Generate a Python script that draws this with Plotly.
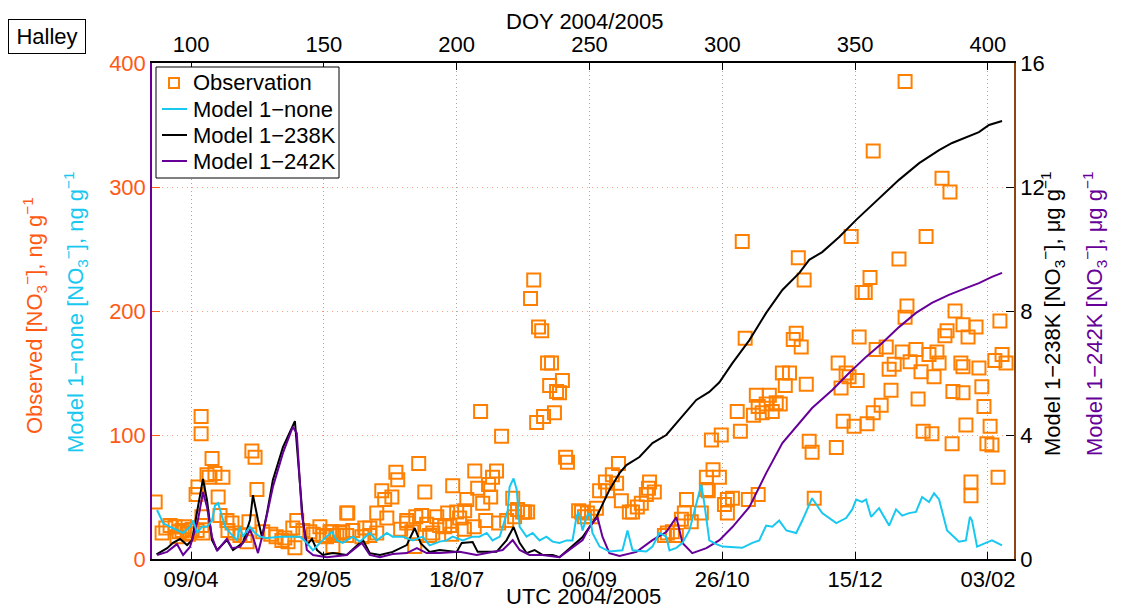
import plotly.graph_objects as go

# ---------------- data ----------------
obs_doy = [86.5, 103.8, 103.8, 107.9, 122.9, 124.1, 106.0, 106.8, 109.0, 112.0, 102.6, 101.9, 110.2, 124.8,
           110.9, 104.1, 104.1, 113.5, 115.4, 121.8, 89.1, 92.1, 94.0, 96.6, 98.5, 100.4, 102.3, 104.5, 113.9,
           116.5, 118.4, 120.3, 121.1, 139.8, 138.3, 142.1, 144.7, 148.5, 149.6, 153.0, 154.9, 158.6, 134.2,
           136.5, 139.1, 153.4, 158.6, 94.7, 135.3, 90.5, 95.5, 97.5, 99.0, 127.0, 130.0, 132.0, 146.0, 151.0,
           156.0,
           209.0, 216.9, 185.7, 177.1, 177.8, 206.8, 215.0, 213.5, 212.0, 198.5, 207.9, 212.8, 209.8, 203.8,
           188.0, 171.8, 172.9, 175.6, 159.0, 169.9, 173.7, 181.2, 186.8, 184.6, 192.5, 196.6, 200.0, 203.0,
           201.1, 210.9, 215.8, 218.8, 222.9, 221.1, 225.6, 221.8, 181.2, 188.7, 193.6, 195.5, 197.4, 206.6,
           202.9, 178.9, 183.1, 189.8, 191.0, 198.1, 165.4, 167.3, 169.9, 160.9, 157.1, 152.3, 164.3, 167.3,
           184.2,
           229.0, 227.8, 230.8, 232.0, 234.2, 235.7, 239.8, 235.0, 237.6, 238.7, 236.8, 232.7, 230.1, 241.0,
           241.7, 260.9, 258.6, 256.0, 253.8, 256.8, 260.2, 262.0, 272.6, 272.2, 274.4, 271.4, 269.5, 268.0,
           266.2, 265.0, 245.9, 249.2, 252.6, 248.1, 250.8, 279.3, 282.7, 278.2, 281.2, 285.7, 286.5, 284.6,
           288.3, 292.1, 294.0, 295.9, 299.6, 294.0, 296.5, 294.7, 224.8, 226.7, 247.0,
           307.5, 328.6, 330.8, 348.5, 355.6, 352.6, 353.8, 366.5, 376.7, 369.5, 368.8, 308.6, 327.8, 326.7,
           329.7, 351.5, 357.9, 361.7, 387.6, 390.6, 395.5, 384.6, 383.8, 392.5, 404.5, 343.6, 346.6, 347.7,
           350.8, 344.7, 362.8, 364.7, 367.7, 370.7, 372.9, 374.8, 377.8, 380.8, 381.6, 379.7, 389.8, 390.6,
           396.6, 402.6, 405.3, 406.8, 363.5, 373.7, 386.8, 390.6, 397.7, 398.5, 359.8, 356.8, 354.5, 349.6,
           345.5, 391.7, 400.8, 375.6, 378.9, 386.5, 399.6, 401.5, 342.9, 332.7, 333.8, 403.8, 393.6, 393.6,
           334.6, 322.6, 325.3, 323.7, 331.6, 312.8, 317.7, 313.5, 316.5, 320.3, 321.8, 311.7, 315.0, 318.8,
           305.6, 306.8, 298.9, 303.8, 301.9, 300.8, 301.9, 309.8, 313.5, 368.8, 356.8, 382.7, 385.7]
obs_val = [46, 115, 101, 81, 87, 82, 68, 66, 69, 66, 58, 52, 50, 56,
           35, 34, 27, 31, 29, 30, 21, 27, 26, 23, 21, 24, 23, 21, 23,
           21, 19, 19, 14, 31, 25, 23, 22, 26, 19, 22, 19, 37, 15,
           14, 9, 10, 19, 18, 17, 25, 22, 26, 20, 22, 20, 18, 20, 18,
           21,
           119, 99, 77, 70, 64, 71, 71, 66, 60, 59, 57, 50, 45, 48,
           54, 55, 48, 50, 37, 37, 33, 31, 35, 34, 34, 37, 38, 39,
           33, 31, 29, 31, 40, 49, 38, 34, 29, 28, 27, 26, 27, 26,
           24, 24, 22, 19, 21, 20, 25, 25, 21, 23, 22, 22, 18, 19,
           10,
           225, 210, 187, 184, 158, 158, 144, 140, 135, 134, 118, 115, 110, 82,
           78, 77, 68, 62, 55, 55, 61, 47, 62, 57, 54, 52, 45, 42,
           38, 38, 39, 37, 41, 34, 34, 21, 19, 19, 22, 37, 48, 32,
           30, 37, 56, 96, 100, 66, 72, 55, 38, 38, 38,
           256, 243, 225, 260, 227, 215, 215, 242, 260, 204, 195, 178, 182, 177,
           171, 179, 169, 171, 200, 189, 187, 184, 180, 179, 192, 158, 150, 147,
           144, 138, 153, 157, 167, 159, 169, 151, 165, 167, 158, 147, 158, 155,
           154, 160, 165, 158, 136, 129, 135, 134, 139, 123, 124, 118, 109, 107,
           111, 108, 107, 103, 101, 93, 93, 92, 90, 95, 86, 66, 62, 51,
           49, 150, 150, 140, 141, 132, 132, 123, 125, 126, 125, 116, 118, 119,
           119, 103, 66, 49, 48, 44, 37, 48, 52, 385, 329, 307, 296]

none_doy = [87.2, 88.3, 89.5, 92.1, 94.7, 97.0, 99.6, 100.8, 102.3, 104.1, 106.0, 107.9, 109.0, 110.2, 111.7,
            112.8, 114.7, 117.3, 118.4, 119.5, 121.1, 122.2, 124.1, 125.9, 128.6, 133.5, 138.3, 141.0, 143.6,
            145.9, 148.5, 151.1, 153.0, 154.9, 157.1, 160.9, 163.5, 167.3, 169.9, 173.7, 175.9, 179.7, 183.5,
            187.2, 189.8, 193.6, 196.2, 198.5, 202.3, 206.0, 208.6, 211.3, 213.5, 216.2, 219.2, 219.9, 221.4,
            222.6, 223.7, 226.3, 228.6, 231.2, 233.8, 236.1, 238.7, 241.4, 243.6, 245.1, 245.9, 247.4, 248.9,
            250.0, 251.1, 253.8, 257.5, 262.4, 264.3, 266.2, 271.4, 273.7, 276.3, 278.9, 280.1, 282.7, 285.0,
            287.6, 290.2, 292.1, 293.2, 295.1, 297.7, 300.2, 307.5, 311.3, 313.9, 316.5, 318.8, 321.4, 324.1,
            327.8, 330.1, 333.8, 337.6, 341.4, 342.9, 346.6, 348.9, 350.4, 352.6, 354.1, 356.0, 359.0, 362.8,
            365.4, 367.7, 370.3, 372.9, 375.2, 377.8, 379.7, 381.6, 384.6, 389.1, 391.7, 393.2, 394.0, 395.9,
            399.2, 401.5, 405.3]
none_val = [39.5, 34, 29, 26, 23, 21, 26, 31, 21, 26, 26, 31, 43, 45, 34,
            26, 21, 15, 26, 18, 23, 26, 21, 18, 17, 18, 18, 18, 13,
            7, 13, 18, 22, 15, 13, 18, 14, 21, 15, 21, 18, 18, 15,
            18, 11, 14, 15, 18, 15, 18, 18, 21, 15, 18, 39, 58, 65,
            56, 26, 18, 21, 15, 18, 14, 13, 15, 15, 34, 38, 23, 34,
            37, 21, 10, 6, 7, 23, 7, 6, 10, 21, 18, 7, 9, 13,
            23, 45, 60, 45, 15, 12, 10, 9, 13, 15, 27, 26, 31, 23,
            21, 31, 49, 37, 31, 29, 33, 40, 48, 46, 48, 34, 41, 27,
            40, 35, 37, 38, 50, 46, 53, 48, 23, 14, 15, 34, 31, 10,
            13, 15, 11]

k238_doy = [87.0, 91.0, 93.2, 95.9, 98.5, 100.4, 102.6, 104.5, 106.0, 107.9, 109.8, 113.5, 115.8, 119.5,
            122.2, 123.3, 125.2, 126.7, 128.6, 130.8, 134.6, 139.1, 142.1, 143.6, 145.5, 147.4, 149.6, 153.4,
            158.6, 164.7, 167.3, 171.1, 175.9, 181.2, 184.2, 186.5, 189.8, 193.6, 200.0, 201.9, 206.0, 207.9,
            215.0, 218.8, 221.4, 223.7, 226.3, 229.3, 232.3, 236.1, 238.7, 242.5, 247.4, 252.6, 257.5, 261.3,
            263.9, 268.8, 273.7, 278.9, 282.7, 290.2, 295.1, 298.9, 303.8, 310.2, 316.5, 322.6, 329.0, 332.7,
            337.6, 344.0, 350.4, 357.9, 366.5, 374.1, 381.6, 386.5, 391.7, 396.6, 400.4, 405.3]
k238_val = [0.15, 0.35, 0.52, 0.65, 0.45, 0.61, 1.68, 2.58, 1.90, 0.61, 0.29, 0.61, 0.29, 0.52,
            1.26, 2.06, 1.26, 0.71, 1.48, 2.55, 3.61, 4.45, 1.26, 0.45, 0.65, 0.29, 0.13, 0.19,
            0.13, 0.61, 0.19, 0.13, 0.23, 0.45, 1.0, 0.5, 0.23, 0.29, 0.23, 0.52, 0.55, 0.23,
            0.23, 0.61, 1.03, 0.52, 0.19, 0.29, 0.13, 0.13, 0.06, 0.35, 0.71, 1.35, 2.23, 2.77,
            3.03, 3.29, 3.74, 4.0, 4.39, 5.13, 5.39, 5.70, 6.32, 7.06, 7.94, 8.68, 9.23, 9.65,
            9.90, 10.39, 10.94, 11.55, 12.23, 12.77, 13.19, 13.42, 13.61, 13.77, 14.0, 14.13]

k242_doy = [87.2, 91.0, 94.7, 97.0, 99.6, 102.6, 104.5, 106.0, 107.9, 109.8, 113.5, 115.4, 118.4, 120.3,
            122.2, 123.3, 125.2, 127.1, 130.8, 134.6, 138.3, 139.8, 141.7, 143.6, 145.9, 151.1, 158.6, 164.3,
            167.3, 171.1, 175.9, 181.2, 185.0, 188.7, 193.6, 201.1, 207.5, 213.5, 217.3, 221.1, 223.7, 227.4,
            232.3, 238.7, 242.5, 247.4, 250.0, 253.0, 254.9, 257.5, 261.3, 267.7, 273.7, 278.9, 282.7, 285.0,
            288.7, 294.0, 298.9, 303.8, 310.2, 316.5, 322.6, 329.0, 333.8, 341.4, 347.7, 354.1, 360.2, 366.5,
            372.9, 378.9, 385.3, 391.7, 396.6, 401.5, 405.3]
k242_val = [0.13, 0.23, 0.48, 0.13, 0.39, 1.26, 2.16, 1.68, 0.71, 0.26, 0.65, 0.35, 0.39, 0.61,
            0.94, 0.71, 0.19, 0.84, 2.32, 3.42, 4.26, 4.06, 1.48, 0.29, 0.13, 0.06, 0.13, 0.52,
            0.13, 0.06, 0.16, 0.19, 0.35, 0.19, 0.19, 0.23, 0.13, 0.23, 0.29, 0.61, 0.29, 0.13,
            0.13, 0.06, 0.29, 0.61, 1.03, 1.35, 0.71, 0.19, 0.10, 0.23, 0.61, 0.87, 1.35, 0.52,
            0.19, 0.35, 0.61, 1.03, 1.68, 2.77, 3.74, 4.39, 4.87, 5.45, 6.0, 6.52, 6.97, 7.48,
            7.94, 8.26, 8.52, 8.74, 8.90, 9.10, 9.23]

doy_ticks = [100, 150, 200, 250, 300, 350, 400]
date_labels = ["09/04", "29/05", "18/07", "06/09", "26/10", "15/12", "03/02"]
left_ticks = [0, 100, 200, 300, 400]
right_ticks = [0, 4, 8, 12, 16]
legend_names = ["Observation", "Model 1\u2212none", "Model 1\u2212238K", "Model 1\u2212242K"]

# ---------------- style ----------------
FONT = "Liberation Sans, Arial, sans-serif"
ORANGE_TXT = "#FF5A14"
ORANGE_MK = "#FF8000"
CYAN = "#18C8F0"
PURPLE = "#660099"
BROWN = "#8B4513"
FS = 22

W, H = 1124, 609
L, R, T, B = 152, 1014, 63, 559


def px(x):
    return (x - L) / (R - L)


def py(y):
    return (B - y) / (B - T)


fig = go.Figure()
fig.add_trace(go.Scatter(x=obs_doy, y=obs_val, mode="markers", name=legend_names[0],
                         marker=dict(symbol="square-open", size=13, color=ORANGE_MK,
                                     line=dict(width=2, color=ORANGE_MK)),
                         xaxis="x", yaxis="y", showlegend=False))
fig.add_trace(go.Scatter(x=none_doy, y=none_val, mode="lines", name=legend_names[1],
                         line=dict(color=CYAN, width=2), xaxis="x2", yaxis="y", showlegend=False))
fig.add_trace(go.Scatter(x=k238_doy, y=k238_val, mode="lines", name=legend_names[2],
                         line=dict(color="black", width=2), xaxis="x", yaxis="y2", showlegend=False))
fig.add_trace(go.Scatter(x=k242_doy, y=k242_val, mode="lines", name=legend_names[3],
                         line=dict(color=PURPLE, width=2), xaxis="x", yaxis="y2", showlegend=False))

xr = [85.3, 409.8]
fig.update_layout(
    width=W, height=H,
    margin=dict(l=L, r=W - R, t=T, b=H - B, pad=0),
    paper_bgcolor="white", plot_bgcolor="white",
    font=dict(family=FONT, size=FS, color="black"),
    showlegend=False,
    xaxis=dict(range=xr, tickvals=doy_ticks, ticktext=date_labels,
               ticks="inside", ticklen=7, tickcolor="black", tickwidth=1,
               showline=True, linecolor="black", linewidth=1.5,
               showgrid=False, zeroline=False,
               tickfont=dict(size=FS, color="black")),
    xaxis2=dict(range=xr, overlaying="x", side="top", tickvals=doy_ticks,
                ticktext=[str(v) for v in doy_ticks],
                ticks="inside", ticklen=7, tickcolor="black", tickwidth=1,
                showline=True, linecolor="black", linewidth=1.5,
                showgrid=True, gridcolor="#A8A8A8", griddash="1px,3px", gridwidth=1,
                zeroline=False, tickfont=dict(size=FS, color="black")),
    yaxis=dict(range=[0, 400], tickvals=left_ticks,
               ticks="inside", ticklen=8, tickcolor=ORANGE_TXT, tickwidth=1,
               showline=True, linecolor=PURPLE, linewidth=1.5,
               showgrid=True, gridcolor="#F7A384", griddash="1px,4px", gridwidth=1,
               zeroline=False, tickfont=dict(size=FS, color=ORANGE_TXT)),
    yaxis2=dict(range=[0, 16], tickvals=right_ticks, overlaying="y", side="right",
                ticks="inside", ticklen=8, tickcolor="black", tickwidth=1,
                showline=True, linecolor=BROWN, linewidth=1.5,
                showgrid=False, zeroline=False,
                tickfont=dict(size=FS, color="black")),
)

# ---- legend drawn in layout (box, keys, labels) ----
shapes = [dict(type="rect", xref="paper", yref="paper", x0=px(156), x1=px(339), y0=py(67), y1=py(178),
               line=dict(color="black", width=1), fillcolor="white", layer="above")]
row_y = [83, 109, 135, 161]
key_colors = [ORANGE_MK, CYAN, "black", PURPLE]
shapes.append(dict(type="rect", xref="paper", yref="paper", x0=px(169), x1=px(179),
                   y0=py(row_y[0] + 5), y1=py(row_y[0] - 5), line=dict(color=ORANGE_MK, width=2),
                   layer="above"))
for yy, cc in zip(row_y[1:], key_colors[1:]):
    shapes.append(dict(type="line", xref="paper", yref="paper", x0=px(162), x1=px(187),
                       y0=py(yy), y1=py(yy), line=dict(color=cc, width=2), layer="above"))
fig.update_layout(shapes=shapes)

no3 = "[NO<sub>3</sub><sup>\u2212</sup>]"
ann = [
    dict(text="Halley", x=px(47), y=py(36), showarrow=False, bordercolor="black", borderwidth=1,
         borderpad=4, bgcolor="white", font=dict(size=FS, color="black"), width=68),
    dict(text="DOY 2004/2005", x=px(584), y=py(22), showarrow=False,
         font=dict(size=FS, color="black")),
    dict(text="UTC 2004/2005", x=px(583), y=py(596), showarrow=False,
         font=dict(size=FS, color="black")),
    dict(text="Observed " + no3 + ", ng g<sup>\u22121</sup>", x=px(34), y=py(316), textangle=-90,
         showarrow=False, font=dict(size=FS, color=ORANGE_TXT)),
    dict(text="Model 1\u2212none " + no3 + ", ng g<sup>\u22121</sup>", x=px(75), y=py(312), textangle=-90,
         showarrow=False, font=dict(size=FS, color=CYAN)),
    dict(text="Model 1\u2212238K " + no3 + ", \u03bcg g<sup>\u22121</sup>", x=px(1052), y=py(314),
         textangle=-90, showarrow=False, font=dict(size=FS, color="black")),
    dict(text="Model 1\u2212242K " + no3 + ", \u03bcg g<sup>\u22121</sup>", x=px(1094), y=py(314),
         textangle=-90, showarrow=False, font=dict(size=FS, color=PURPLE)),
]
for name, yy in zip(legend_names, row_y):
    ann.append(dict(text=name, x=px(191), y=py(yy), xanchor="left", showarrow=False,
                    font=dict(size=FS, color="black")))
for a in ann:
    a.setdefault("xref", "paper")
    a.setdefault("yref", "paper")
    a.setdefault("xanchor", "center")
    a.setdefault("yanchor", "middle")
fig.update_layout(annotations=ann)

fig.write_html("out.html")
